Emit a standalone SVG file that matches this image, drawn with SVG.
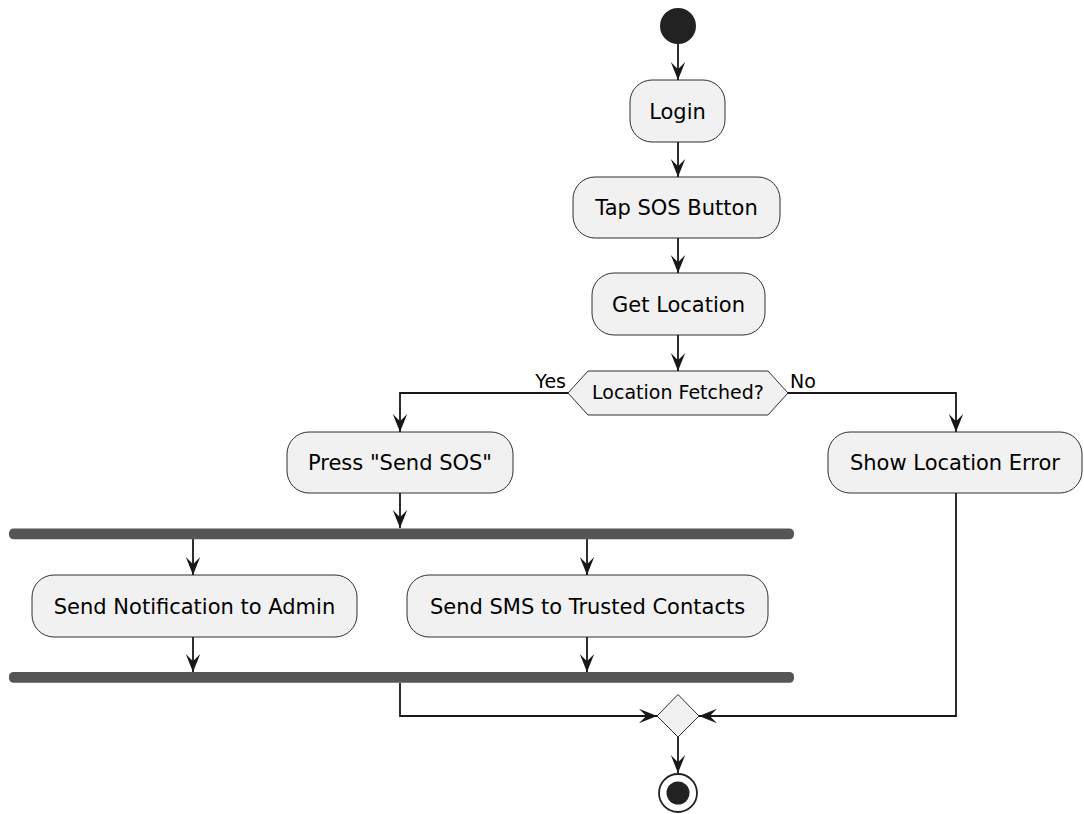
<svg xmlns="http://www.w3.org/2000/svg" width="1084" height="814" viewBox="0 0 1084 814">
  <style>
    .act { fill: #F1F1F1; stroke: #181818; stroke-width: 0.9; }
    .lbl { font-family: "DejaVu Sans", sans-serif; font-size: 21px; fill: #000; text-anchor: middle; }
    .small { font-family: "DejaVu Sans", sans-serif; font-size: 19px; fill: #000; }
    .flow { fill: none; stroke: #181818; stroke-width: 1.8; }
    .bar { fill: #555555; }
  </style>
  <defs>
    <marker id="arrow" markerUnits="userSpaceOnUse" viewBox="-19 -8 20 16" refX="0" refY="0" markerWidth="20" markerHeight="16" orient="auto">
      <path d="M0,0 L-18,-7.2 L-10.8,0 L-18,7.2 Z" fill="#181818"/>
    </marker>
  </defs>
  <rect width="1084" height="814" fill="#FFFFFF"/>

  <g id="connectors">
    <path class="flow" d="M678,44 V80" marker-end="url(#arrow)"/>
    <path class="flow" d="M678,142 V177" marker-end="url(#arrow)"/>
    <path class="flow" d="M678,238 V273" marker-end="url(#arrow)"/>
    <path class="flow" d="M678,335 V371" marker-end="url(#arrow)"/>
    <path class="flow" d="M568,393 H400 V432" marker-end="url(#arrow)"/>
    <path class="flow" d="M788,393 H956 V432" marker-end="url(#arrow)"/>
    <path class="flow" d="M400,493 V528" marker-end="url(#arrow)"/>
    <path class="flow" d="M193,539 V575" marker-end="url(#arrow)"/>
    <path class="flow" d="M587,539 V575" marker-end="url(#arrow)"/>
    <path class="flow" d="M193,637 V672" marker-end="url(#arrow)"/>
    <path class="flow" d="M587,637 V672" marker-end="url(#arrow)"/>
    <path class="flow" d="M400,683 V716 H657" marker-end="url(#arrow)"/>
    <path class="flow" d="M956,493 V716 H699" marker-end="url(#arrow)"/>
    <path class="flow" d="M678,737 V773" marker-end="url(#arrow)"/>
    <text class="small" x="566" y="388" text-anchor="end">Yes</text>
    <text class="small" x="790" y="388">No</text>
  </g>

  <g id="start">
    <circle cx="678" cy="26" r="18" fill="#222222"/>
  </g>

  <g id="login">
    <rect class="act" x="630" y="80" width="95" height="62" rx="22"/>
    <text class="lbl" x="677.5" y="118.5">Login</text>
  </g>

  <g id="tap-sos">
    <rect class="act" x="573" y="177" width="207" height="61" rx="22"/>
    <text class="lbl" x="676.5" y="215">Tap SOS Button</text>
  </g>

  <g id="get-location">
    <rect class="act" x="592" y="273" width="173" height="62" rx="22"/>
    <text class="lbl" x="678.5" y="311.5">Get Location</text>
  </g>

  <g id="location-fetched">
    <polygon class="act" points="568,393 588,371 768,371 788,393 768,415 588,415"/>
    <text class="small" x="678" y="399" text-anchor="middle">Location Fetched?</text>
  </g>

  <g id="press-send">
    <rect class="act" x="287" y="432" width="226" height="61" rx="22"/>
    <text class="lbl" x="400" y="470">Press "Send SOS"</text>
  </g>

  <g id="location-error">
    <rect class="act" x="828" y="432" width="254" height="61" rx="22"/>
    <text class="lbl" x="955" y="470">Show Location Error</text>
  </g>

  <g id="fork">
    <rect class="bar" x="9" y="528.5" width="785" height="10.8" rx="4.5"/>
  </g>

  <g id="notify-admin">
    <rect class="act" x="32" y="575" width="325" height="62" rx="22"/>
    <text class="lbl" x="194.5" y="613.5">Send Notification to Admin</text>
  </g>

  <g id="sms-contacts">
    <rect class="act" x="407" y="575" width="361" height="62" rx="22"/>
    <text class="lbl" x="587.5" y="613.5">Send SMS to Trusted Contacts</text>
  </g>

  <g id="join">
    <rect class="bar" x="9" y="672" width="785" height="10.8" rx="4.5"/>
  </g>

  <g id="merge">
    <polygon class="act" points="657,716 678,694.5 699,716 678,737"/>
  </g>

  <g id="stop">
    <circle cx="678" cy="793" r="19" fill="none" stroke="#222222" stroke-width="1.8"/>
    <circle cx="678" cy="793" r="11.5" fill="#222222"/>
  </g>
</svg>
